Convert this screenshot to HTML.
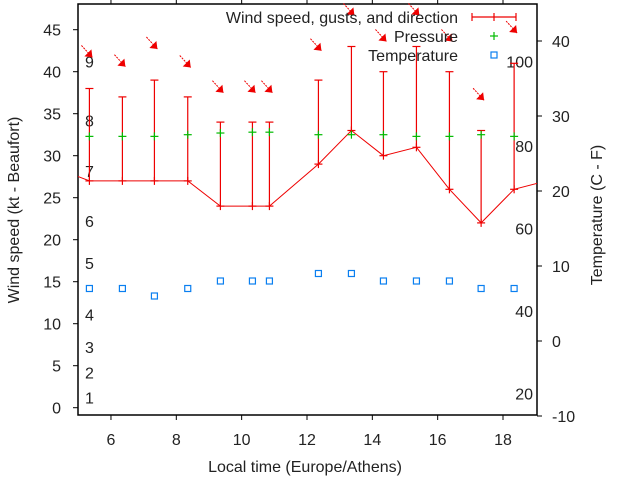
<!DOCTYPE html>
<html><head><meta charset="utf-8"><style>
body{margin:0;background:#fff}
svg{display:block;font-family:"Liberation Sans",sans-serif;font-size:16px;fill:#222}
</style></head><body>
<svg id="c" width="640" height="480" viewBox="0 0 640 480">
<defs><clipPath id="clip"><rect x="78" y="4" width="459" height="411"/></clipPath></defs>
<g id="g"></g>
</svg>
<script>
const times=[5.34,6.35,7.33,8.35,9.35,10.33,10.85,12.35,13.36,14.34,15.35,16.36,17.33,18.34];
const wind=[27,27,27,27,24,24,24,29,33,30,31,26,22,26];
const gusts=[38,37,39,37,34,34,34,39,43,40,43,40,33,41];
const pressure=[32.3,32.3,32.3,32.5,32.7,32.8,32.8,32.5,32.5,32.5,32.3,32.3,32.5,32.3];
const temps=[7,7,6,7,8,8,8,9,9,8,8,8,7,7];
const arrowY=[41.7,40.6,42.7,40.5,37.5,37.5,37.5,42.5,46.7,43.6,46.7,43.6,36.6,44.6];
const edgeTimes=[4.34,19.34];const edgeWind=[28.5,27];
const xTicks=[6,8,10,12,14,16,18];
const yTicks=[0,5,10,15,20,25,30,35,40,45];
const y2Ticks=[-10,0,10,20,30,40];
const bftLabels=["1","2","3","4","5","6","7","8","9"];
const bftY=[1.2,4.2,7.2,11.1,17.2,22.2,28.2,34.2,41.2];
const fLabels=["20","40","60","80","100"];
const fY=[-7,4,15,26,37.3];
const X=t=>78.3+(t-5)*32.67, Y=v=>407.7-v*8.4, Y2=v=>341-v*7.5;
const NS="http://www.w3.org/2000/svg",g=document.getElementById('g');
function el(tag,a,txt,p){const e=document.createElementNS(NS,tag);for(const k in a)e.setAttribute(k,a[k]);if(txt!=null)e.textContent=txt;(p||g).appendChild(e);return e;}
let e=el('rect',{x:78,y:4,width:459,height:411,fill:'none',stroke:'#000','stroke-width':1.5});

xTicks.forEach(t=>{el('line',{x1:X(t),x2:X(t),y1:415,y2:420,stroke:'#000'});el('line',{x1:X(t),x2:X(t),y1:4,y2:0,stroke:'#000'});
 e=el('text',{x:X(t),y:445,'text-anchor':'middle'},t);});
yTicks.forEach(v=>{el('line',{x1:73,x2:78,y1:Y(v),y2:Y(v),stroke:'#000'});
 e=el('text',{x:61,y:Y(v)+6,'text-anchor':'end'},v);});
y2Ticks.forEach(v=>{el('line',{x1:537,x2:542,y1:Y2(v),y2:Y2(v),stroke:'#000'});
 e=el('text',{x:552,y:Y2(v)+6},v);});
bftLabels.forEach((l,i)=>{e=el('text',{x:85,y:Y(bftY[i])+6},l);});
fLabels.forEach((l,i)=>{e=el('text',{x:533,y:Y2(fY[i])+6,'text-anchor':'end'},l);});
e=el('text',{x:305,y:472,'text-anchor':'middle'},'Local time (Europe/Athens)');
e=el('text',{x:0,y:0,'text-anchor':'middle',transform:'translate(19,210) rotate(-90)'},'Wind speed (kt - Beaufort)');
e=el('text',{x:0,y:0,'text-anchor':'middle',transform:'translate(602,215) rotate(-90)'},'Temperature (C - F)');
const cg=el('g',{'clip-path':'url(#clip)'});
const allT=[edgeTimes[0],...times,edgeTimes[1]],allW=[edgeWind[0],...wind,edgeWind[1]];
e=el('polyline',{points:allT.map((t,i)=>X(t)+','+Y(allW[i])).join(' '),fill:'none',stroke:'#e00',"stroke-width":1},null,cg);

times.forEach((t,i)=>{const x=X(t);
 const b=el('g',{stroke:'#e00','stroke-width':1.2});
 el('line',{x1:x,x2:x,y1:Y(wind[i]),y2:Y(gusts[i])},null,b);
 el('line',{x1:x-4,x2:x+4,y1:Y(gusts[i]),y2:Y(gusts[i])},null,b);
 el('line',{x1:x-4,x2:x+4,y1:Y(wind[i]),y2:Y(wind[i])},null,b);
 el('line',{x1:x,x2:x,y1:Y(wind[i])-4,y2:Y(wind[i])+4},null,b);
 const p=el('g',{stroke:'#0b0','stroke-width':1.2});
 el('line',{x1:x-4,x2:x+4,y1:Y(pressure[i]),y2:Y(pressure[i])},null,p);el('line',{x1:x,x2:x,y1:Y(pressure[i])-4,y2:Y(pressure[i])+4},null,p);
 const s=el('rect',{x:x-3,y:Y2(temps[i])-3,width:6,height:6,fill:'none',stroke:'#0a7ff0','stroke-width':1.2});
 
 const hx=x+3,hy=Y(arrowY[i]);
 const a=el('g',{});
 el('line',{x1:hx-11,y1:hy-12,x2:hx,y2:hy,stroke:'#e00','stroke-width':1,'stroke-dasharray':'2,1'},null,a);
 el('polygon',{points:`${hx},${hy} ${hx-8},${hy-1} ${hx-1},${hy-8}`,fill:'#e00'},null,a);
});
e=el('text',{x:458,y:23,'text-anchor':'end'},'Wind speed, gusts, and direction');
const lg=el('g',{stroke:'#e00','stroke-width':1.2});
el('line',{x1:472,x2:516,y1:17,y2:17},null,lg);[472,494,516].forEach(x=>el('line',{x1:x,x2:x,y1:13,y2:21},null,lg));
e=el('text',{x:458,y:42,'text-anchor':'end'},'Pressure');
const lp=el('g',{stroke:'#0b0','stroke-width':1.2});
el('line',{x1:490,x2:498,y1:36,y2:36},null,lp);el('line',{x1:494,x2:494,y1:32,y2:40},null,lp);
e=el('text',{x:458,y:61,'text-anchor':'end'},'Temperature');
e=el('rect',{x:491,y:52,width:6,height:6,fill:'none',stroke:'#0a7ff0','stroke-width':1.2});
</script>
</body></html>
